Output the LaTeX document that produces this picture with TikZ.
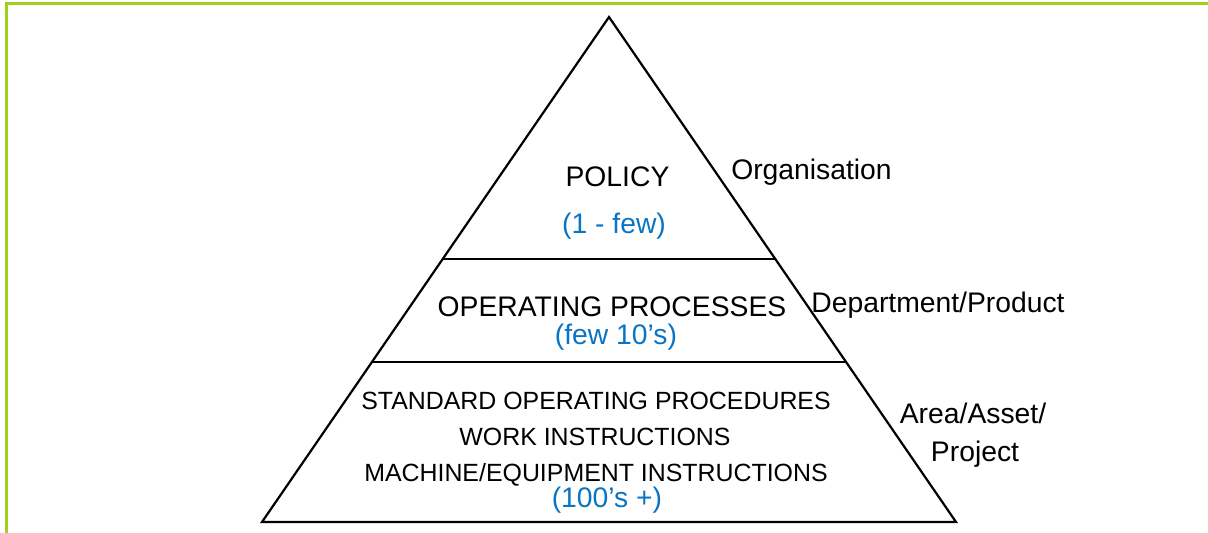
\documentclass[tikz,border=0pt]{standalone}
\usepackage{fontspec}
\setmainfont{Liberation Sans}
\usetikzlibrary{calc}
\definecolor{framegreen}{RGB}{160,208,30}
\definecolor{countblue}{RGB}{10,116,196}
\begin{document}
\begin{tikzpicture}[x=1pt,y=-1pt,
  txt/.style={anchor=base,inner sep=0pt,font=\fontsize{28.3}{34}\selectfont},
  smalltxt/.style={anchor=base,inner sep=0pt,font=\fontsize{24.9}{30}\selectfont},
  count/.style={txt,text=countblue},
  edge/.style={line width=2.2pt,black}]
\useasboundingbox (0,0) rectangle (1208,533);
% frame
\draw[framegreen,line width=2.2pt] (6.5,533) -- (6.5,3.5) -- (1208,3.5);
% pyramid
\coordinate (apex) at (609,17);
\coordinate (bl) at (262,522);
\coordinate (br) at (956,522);
\draw[edge,line join=miter] (apex) -- (bl) -- (br) -- cycle;
\coordinate (l1) at ($(apex)!0.4792!(bl)$);
\coordinate (r1) at ($(apex)!0.4792!(br)$);
\coordinate (l2) at ($(apex)!0.6832!(bl)$);
\coordinate (r2) at ($(apex)!0.6832!(br)$);
\draw[edge] (l1) -- (r1);
\draw[edge] (l2) -- (r2);
% texts
\node[txt] (policy) at (617.5,186) {POLICY};
\node[count] (policyn) at (614,233) {(1 - few)};
\node[txt] (ops) at (612,316) {OPERATING PROCESSES};
\node[count] (opsn) at (616,344) {(few 10’s)};
\node[smalltxt] (sop) at (596,409) {STANDARD OPERATING PROCEDURES};
\node[smalltxt] (wi) at (595,445) {WORK INSTRUCTIONS};
\node[smalltxt] (mei) at (596,481) {MACHINE/EQUIPMENT INSTRUCTIONS};
\node[count] (sopn) at (607,507) {(100’s +)};
\node[txt] (org) at (811.5,179) {Organisation};
\node[txt] (dept) at (938,312) {Department/Product};
\node[txt] (area) at (973,423) {Area/Asset/};
\node[txt] (proj) at (975,461) {Project};
\end{tikzpicture}
\end{document}
